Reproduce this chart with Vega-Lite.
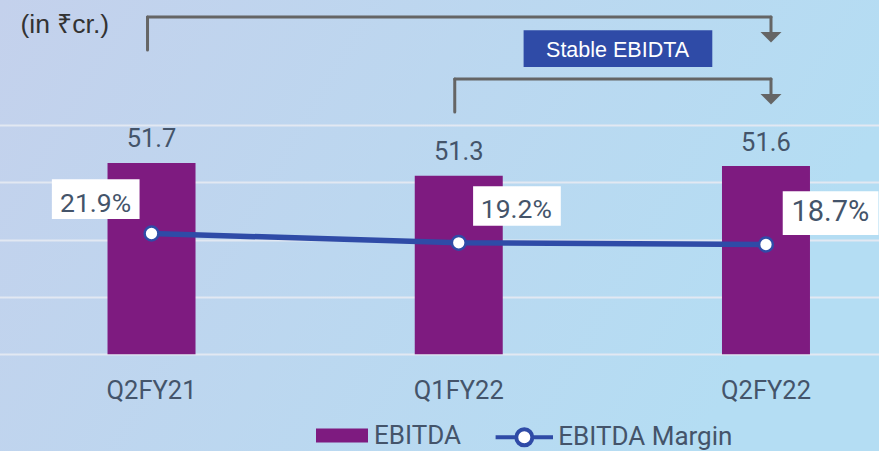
{
  "$schema": "https://vega.github.io/schema/vega-lite/v6.json",
  "width": 879,
  "height": 451,
  "autosize": {"type": "none"},
  "padding": 0,
  "background": "#BCD6EF",
  "config": {
    "view": {
      "stroke": null,
      "fill": {"gradient": "linear", "x1": 0, "y1": 0, "x2": 1, "y2": 0.3, "stops": [{"offset": 0, "color": "#C4D1EC"}, {"offset": 1, "color": "#B4DDF3"}]}
    }
  },
  "datasets": {
    "main": [
      {"quarter": "Q2FY21", "ebitda": 51.7, "margin": 21.9},
      {"quarter": "Q1FY22", "ebitda": 51.3, "margin": 19.2},
      {"quarter": "Q2FY22", "ebitda": 51.6, "margin": 18.7}
    ],
    "brackets": [
      {"from": "Q2FY21", "to": "Q2FY22", "top": 56.26, "start": 55.23, "end": 55.79},
      {"from": "Q1FY22", "to": "Q2FY22", "top": 54.32, "start": 53.29, "end": 53.85}
    ],
    "notes": [{"note": "Stable EBIDTA"}]
  },
  "resolve": {"scale": {"y": "independent"}},
  "layer": [
    {
      "data": {"name": "main"},
      "mark": {"type": "bar"},
      "encoding": {
        "x": {
          "field": "quarter", "type": "nominal",
          "scale": {"domain": ["Q2FY21", "Q1FY22", "Q2FY22"], "range": [-2.1, 919.6], "paddingInner": 0.7136, "paddingOuter": 0.3568},
          "axis": {"orient": "bottom", "offset": -96.7, "title": null, "domain": false, "ticks": false, "grid": false, "labelPadding": 44, "labelBaseline": "alphabetic", "labelAngle": 0, "labelFont": "Roboto", "labelFontSize": 25.5, "labelColor": "#44546A"}
        },
        "y": {
          "field": "ebitda", "type": "quantitative",
          "scale": {"domain": [45.72, 56.79], "range": [354.3, 0], "zero": false, "nice": false},
          "axis": {"values": [45.72, 47.51, 49.3, 51.09, 52.88], "grid": true, "gridColor": "#E2E8F2", "gridWidth": 2, "gridOpacity": 1, "labels": false, "ticks": false, "domain": false, "title": "(in ₹cr.)", "titleAngle": 0, "titleX": 20, "titleY": 32, "titleAlign": "left", "titleBaseline": "alphabetic", "titleFont": "Liberation Sans", "titleFontSize": 26.5, "titleFontWeight": "normal", "titleColor": "#333333"}
        },
        "y2": {"datum": 45.72},
        "fill": {
          "datum": "EBITDA", "type": "nominal",
          "scale": {"range": ["#7E1B80"]},
          "legend": {"orient": "none", "legendX": 316, "legendY": 409.5, "title": null, "padding": 0, "symbolType": "M-1,-0.27L1,-0.27L1,0.27L-1,0.27Z", "symbolSize": 2704, "symbolStrokeWidth": 0, "symbolOpacity": 1, "labelFont": "Roboto", "labelFontSize": 26, "labelLimit": 0, "labelColor": "#44546A", "labelOffset": 6}
        }
      }
    },
    {
      "data": {"name": "main"},
      "mark": {"type": "text", "dy": -15.5, "baseline": "alphabetic", "align": "center", "font": "Roboto", "fontSize": 25.5, "color": "#44546A"},
      "encoding": {
        "x": {"field": "quarter", "type": "nominal"},
        "y": {"field": "ebitda", "type": "quantitative", "scale": {"domain": [45.72, 56.79], "range": [354.3, 0], "zero": false, "nice": false}, "axis": null},
        "text": {"field": "ebitda", "type": "quantitative", "format": ".1f"}
      }
    },
    {
      "data": {"name": "brackets"},
      "mark": {"type": "rule", "color": "#656565", "strokeWidth": 3, "strokeCap": "round", "xOffset": -4},
      "encoding": {
        "x": {"field": "from", "type": "nominal"},
        "y": {"field": "start", "type": "quantitative", "scale": {"domain": [45.72, 56.79], "range": [354.3, 0], "zero": false, "nice": false}, "axis": null},
        "y2": {"field": "top"}
      }
    },
    {
      "data": {"name": "brackets"},
      "mark": {"type": "rule", "color": "#656565", "strokeWidth": 3, "strokeCap": "round", "xOffset": -4, "x2Offset": 5},
      "encoding": {
        "x": {"field": "from", "type": "nominal"},
        "x2": {"field": "to"},
        "y": {"field": "top", "type": "quantitative", "scale": {"domain": [45.72, 56.79], "range": [354.3, 0], "zero": false, "nice": false}, "axis": null}
      }
    },
    {
      "data": {"name": "brackets"},
      "mark": {"type": "rule", "color": "#656565", "strokeWidth": 3, "strokeCap": "round", "xOffset": 5},
      "encoding": {
        "x": {"field": "to", "type": "nominal"},
        "y": {"field": "top", "type": "quantitative", "scale": {"domain": [45.72, 56.79], "range": [354.3, 0], "zero": false, "nice": false}, "axis": null},
        "y2": {"field": "end"}
      }
    },
    {
      "data": {"name": "brackets"},
      "mark": {"type": "point", "shape": "M-1,0L1,0L0,1Z", "size": 441, "filled": true, "color": "#656565", "opacity": 1, "xOffset": 5},
      "encoding": {
        "x": {"field": "to", "type": "nominal"},
        "y": {"field": "end", "type": "quantitative", "scale": {"domain": [45.72, 56.79], "range": [354.3, 0], "zero": false, "nice": false}, "axis": null}
      }
    },
    {
      "data": {"name": "notes"},
      "mark": {"type": "point", "shape": "M-1,-0.1945L1,-0.1945L1,0.1945L-1,0.1945Z", "size": 35608, "filled": true, "color": "#2F4BA7", "opacity": 1, "xOffset": 159.2},
      "encoding": {
        "x": {"datum": "Q1FY22", "type": "nominal"},
        "y": {"datum": 55.27, "type": "quantitative", "scale": {"domain": [45.72, 56.79], "range": [354.3, 0], "zero": false, "nice": false}, "axis": null}
      }
    },
    {
      "data": {"name": "notes"},
      "mark": {"type": "text", "xOffset": 158.8, "dy": 8.6, "baseline": "alphabetic", "align": "center", "font": "Liberation Sans", "fontSize": 21.5, "color": "#FFFFFF"},
      "encoding": {
        "x": {"datum": "Q1FY22", "type": "nominal"},
        "y": {"datum": 55.27, "type": "quantitative", "scale": {"domain": [45.72, 56.79], "range": [354.3, 0], "zero": false, "nice": false}, "axis": null},
        "text": {"field": "note"}
      }
    },
    {
      "data": {"name": "main"},
      "mark": {"type": "line", "strokeWidth": 5.5},
      "encoding": {
        "x": {"field": "quarter", "type": "nominal"},
        "y": {"field": "margin", "type": "quantitative", "scale": {"domain": [-13.19, 89.72], "range": [354.3, 0], "zero": false, "nice": false}, "axis": null},
        "stroke": {
          "datum": "EBITDA Margin", "type": "nominal",
          "scale": {"range": ["#2F4BA7"]},
          "legend": {"orient": "none", "legendX": 493.3, "legendY": 406.3, "title": null, "padding": 0, "symbolType": "M-1,0L-0.28,0M0.28,0L1,0M-0.28,0A0.28,0.28 0 1,0 0.28,0A0.28,0.28 0 1,0 -0.28,0Z", "symbolSize": 3295, "symbolStrokeWidth": 4, "symbolFillColor": "#FFFFFF", "labelFont": "Roboto", "labelFontSize": 26, "labelLimit": 0, "labelColor": "#44546A", "labelOffset": 3}
        }
      }
    },
    {
      "data": {"name": "main"},
      "mark": {"type": "point", "shape": "circle", "size": 190, "filled": true, "fill": "#FFFFFF", "stroke": "#2F4BA7", "strokeWidth": 2.5, "opacity": 1},
      "encoding": {
        "x": {"field": "quarter", "type": "nominal"},
        "y": {"field": "margin", "type": "quantitative", "scale": {"domain": [-13.19, 89.72], "range": [354.3, 0], "zero": false, "nice": false}, "axis": null}
      }
    },
    {
      "data": {"name": "main"},
      "transform": [{"filter": "datum.quarter === 'Q2FY21'"}],
      "mark": {"type": "point", "shape": "M-1,-0.4527L1,-0.4527L1,0.4527L-1,0.4527Z", "size": 7691, "filled": true, "color": "#FFFFFF", "opacity": 1, "xOffset": -55.8, "yOffset": -34.4},
      "encoding": {
        "x": {"field": "quarter", "type": "nominal"},
        "y": {"field": "margin", "type": "quantitative", "scale": {"domain": [-13.19, 89.72], "range": [354.3, 0], "zero": false, "nice": false}, "axis": null}
      }
    },
    {
      "data": {"name": "main"},
      "transform": [{"filter": "datum.quarter === 'Q2FY21'"}, {"calculate": "format(datum.margin, '.1f') + '%'", "as": "label"}],
      "mark": {"type": "text", "dx": -56, "dy": -21.6, "baseline": "alphabetic", "align": "center", "font": "Roboto", "fontSize": 26.5, "color": "#44546A"},
      "encoding": {
        "x": {"field": "quarter", "type": "nominal"},
        "y": {"field": "margin", "type": "quantitative", "scale": {"domain": [-13.19, 89.72], "range": [354.3, 0], "zero": false, "nice": false}, "axis": null},
        "text": {"field": "label"}
      }
    },
    {
      "data": {"name": "main"},
      "transform": [{"filter": "datum.quarter === 'Q1FY22'"}],
      "mark": {"type": "point", "shape": "M-1,-0.4527L1,-0.4527L1,0.4527L-1,0.4527Z", "size": 7691, "filled": true, "color": "#FFFFFF", "opacity": 1, "xOffset": 58.2, "yOffset": -36.8},
      "encoding": {
        "x": {"field": "quarter", "type": "nominal"},
        "y": {"field": "margin", "type": "quantitative", "scale": {"domain": [-13.19, 89.72], "range": [354.3, 0], "zero": false, "nice": false}, "axis": null}
      }
    },
    {
      "data": {"name": "main"},
      "transform": [{"filter": "datum.quarter === 'Q1FY22'"}, {"calculate": "format(datum.margin, '.1f') + '%'", "as": "label"}],
      "mark": {"type": "text", "dx": 57.6, "dy": -24.4, "baseline": "alphabetic", "align": "center", "font": "Roboto", "fontSize": 26.5, "color": "#44546A"},
      "encoding": {
        "x": {"field": "quarter", "type": "nominal"},
        "y": {"field": "margin", "type": "quantitative", "scale": {"domain": [-13.19, 89.72], "range": [354.3, 0], "zero": false, "nice": false}, "axis": null},
        "text": {"field": "label"}
      }
    },
    {
      "data": {"name": "main"},
      "transform": [{"filter": "datum.quarter === 'Q2FY22'"}],
      "mark": {"type": "point", "shape": "M-1,-0.4566L1,-0.4566L1,0.4566L-1,0.4566Z", "size": 9158, "filled": true, "color": "#FFFFFF", "opacity": 1, "xOffset": 64.6, "yOffset": -31.4},
      "encoding": {
        "x": {"field": "quarter", "type": "nominal"},
        "y": {"field": "margin", "type": "quantitative", "scale": {"domain": [-13.19, 89.72], "range": [354.3, 0], "zero": false, "nice": false}, "axis": null}
      }
    },
    {
      "data": {"name": "main"},
      "transform": [{"filter": "datum.quarter === 'Q2FY22'"}, {"calculate": "format(datum.margin, '.1f') + '%'", "as": "label"}],
      "mark": {"type": "text", "dx": 64.4, "dy": -23.3, "baseline": "alphabetic", "align": "center", "font": "Roboto", "fontSize": 29, "color": "#44546A"},
      "encoding": {
        "x": {"field": "quarter", "type": "nominal"},
        "y": {"field": "margin", "type": "quantitative", "scale": {"domain": [-13.19, 89.72], "range": [354.3, 0], "zero": false, "nice": false}, "axis": null},
        "text": {"field": "label"}
      }
    }
  ]
}
